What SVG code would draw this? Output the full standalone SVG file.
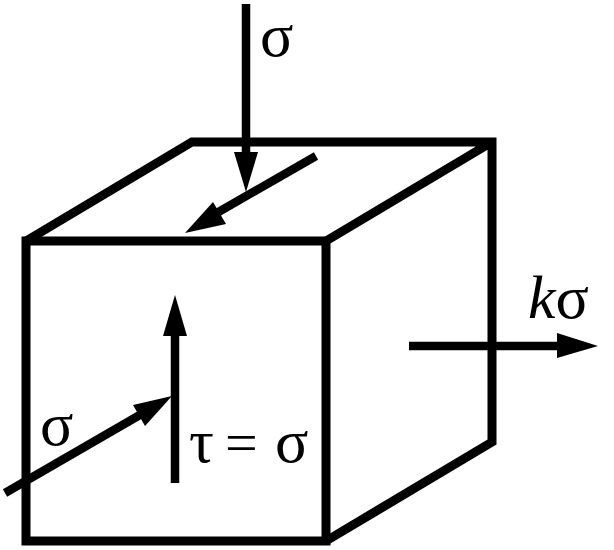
<svg xmlns="http://www.w3.org/2000/svg" width="614" height="550" viewBox="0 0 614 550">
<style>
.e{fill:none;stroke:#000;stroke-width:9;stroke-linejoin:miter;stroke-linecap:butt}
.a{fill:none;stroke:#000;stroke-width:8.5}
.h{fill:#000}
text{font-family:"Liberation Serif",serif;font-size:62px;fill:#000}
</style>
<rect width="614" height="550" fill="#fff"/>
<g id="cube">
<rect class="e" x="26" y="241" width="300" height="300"/>
<path class="e" d="M26 241L192 142H492V442L326 541M326 241L492 142"/>
</g>
<g id="connectors">
<path class="a" d="M246 4V155"/><polygon class="h" points="234,152 258,152 246,192"/>
<path class="a" d="M316 156L215 214"/><polygon class="h" points="185,233 213,202 226,224"/>
<path class="a" d="M175 483V332"/><polygon class="h" points="163,336 187,336 175,295"/>
<path class="a" d="M5 493L145 412"/><polygon class="h" points="172,396 133,405 145,426"/>
<path class="a" d="M409 346H560"/><polygon class="h" points="557,333 557,358 598,346"/>
</g>
<g id="labels">
<text x="260" y="56">σ</text>
<text x="40" y="445">σ</text>
<text y="462"><tspan x="189">τ</tspan><tspan x="225" font-size="58">=</tspan><tspan x="275">σ</tspan></text>
<text x="528" y="318"><tspan font-style="italic">k</tspan>σ</text>
</g>
</svg>
